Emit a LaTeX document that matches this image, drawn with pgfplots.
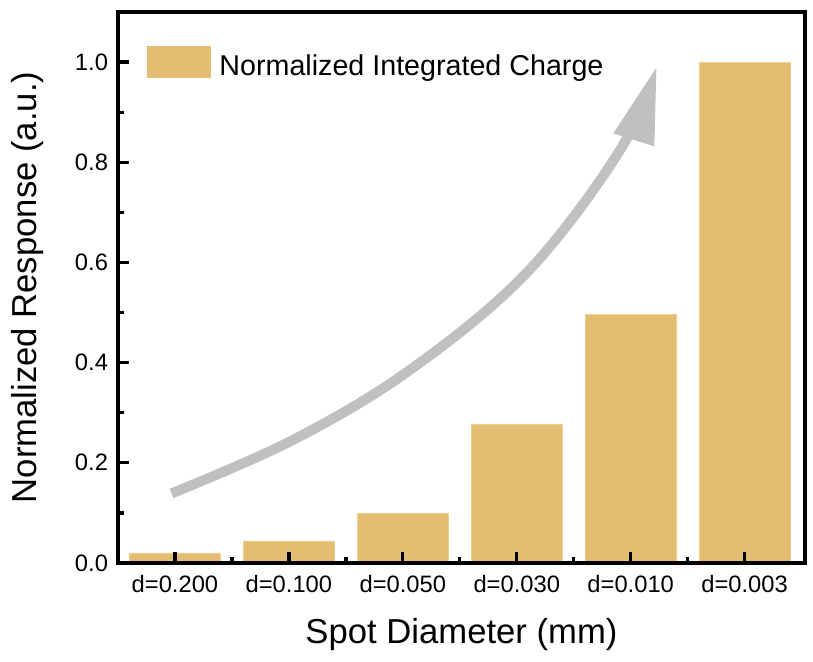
\documentclass[border=0pt]{standalone}
\usepackage{fontspec}
\setmainfont{Liberation Sans}
\usepackage{pgfplots}
\pgfplotsset{compat=1.18}
\usetikzlibrary{arrows.meta}
\definecolor{barcol}{HTML}{E3BE72}
\definecolor{baredge}{HTML}{F0CF8E}
\definecolor{arrowcol}{HTML}{C0C0C0}
\pgfplotstableread{
x y
0 0.020
1 0.044
2 0.100
3 0.276
4 0.497
5 1.000
}\datatable
\begin{document}
\begin{tikzpicture}
\useasboundingbox (-88.5pt,-73.5pt) rectangle (521.25pt,422.25pt);
\begin{axis}[
  at={(0,0)}, anchor=south west,
  scale only axis, width=515.25pt, height=413.25pt,
  axis on top,
  xmin=-0.5, xmax=5.53, ymin=0, ymax=1.1,
  bar width=0.8,
  xtick={0,1,2,3,4,5},
  xticklabels={d=0.200,d=0.100,d=0.050,d=0.030,d=0.010,d=0.003},
  minor x tick num=1,
  ytick={0,0.2,0.4,0.6,0.8,1.0}, minor y tick num=1,
  tick align=inside, tick pos=left,
  axis line style={line width=3pt},
  every tick/.style={black, line width=2.5pt},
  major tick length=8pt, minor tick length=4.5pt,
  tick label style={font=\fontsize{17.8}{21}\selectfont},
  yticklabel style={xshift=-4pt},
  xticklabel style={yshift=-6pt},
  /pgf/number format/.cd, fixed, fixed zerofill, precision=1, assume math mode=true,
  /pgfplots/.cd,
  xlabel={Spot Diameter (mm)},
  ylabel={Normalized Response (a.u.)},
  label style={font=\fontsize{26}{31}\selectfont},
  xlabel style={at={(axis description cs:0.5,0)}, anchor=base, yshift=-60pt},
  ylabel style={at={(axis description cs:0,0.5)}, anchor=base, yshift=61pt},
  legend style={at={(axis description cs:0,1)}, anchor=north west,
    xshift=21.75pt, yshift=-25.5pt, draw=none, fill=none,
    inner sep=0pt, outer sep=0pt, nodes={inner sep=0pt},
    font=\fontsize{21.5}{25}\selectfont,
    /tikz/every odd column/.append style={column sep=6.75pt}},
  legend image code/.code={\fill[barcol] (0pt,-0.75pt) rectangle (47pt,22.5pt);},
]
\addplot[ybar, fill=barcol, draw=baredge, line width=0.6pt] table[x=x,y=y] {\datatable};
\addlegendentry[yshift=7.5pt]{Normalized Integrated Charge}
\draw[arrowcol, line width=7.5pt, -{Triangle[length=58pt,width=30pt]}]
  plot[smooth, tension=0.6] coordinates {(-0.03,0.139) (1.035,0.2455) (2.06,0.385) (3.085,0.579) (3.90,0.822) (4.23,0.992)};
\end{axis}
\end{tikzpicture}
\end{document}
